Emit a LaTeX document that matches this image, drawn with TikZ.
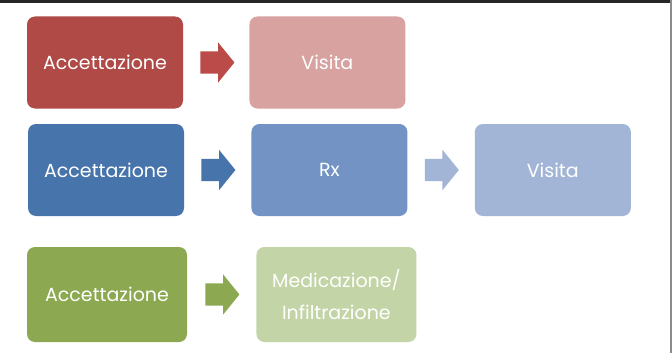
\documentclass[tikz,border=0pt]{standalone}
\usepackage{fontspec}
\setmainfont{Poppins}
\usetikzlibrary{positioning,shapes.arrows}
\definecolor{redDark}{HTML}{AF4A46}
\definecolor{redLight}{HTML}{D8A2A0}
\definecolor{redArrow}{HTML}{BB4B48}
\definecolor{blueDark}{HTML}{4774AB}
\definecolor{blueMid}{HTML}{7293C3}
\definecolor{blueLight}{HTML}{A3B5D6}
\definecolor{greenDark}{HTML}{8CA951}
\definecolor{greenLight}{HTML}{C3D4A6}
\tikzset{step box/.style={rounded corners=8pt, minimum width=156pt, minimum height=92pt,
    text=white, align=center, inner sep=2pt, font=\fontsize{19}{32}\selectfont},
  big box/.style={step box, minimum width=160pt, minimum height=95pt},
  fwd/.style={single arrow, minimum height=34pt, inner xsep=0pt, inner ysep=11pt,
    single arrow head extend=9pt, single arrow tip angle=102}}

\begin{document}
\begin{tikzpicture}[x=1pt,y=-1pt]
      \useasboundingbox (0,0) rectangle (672,353);
      \fill[white] (0,0) rectangle (672,353);
      \draw[black!85, line width=3pt] (0,1.5) -- (672,1.5);
      \draw[black!45, line width=2pt] (670.5,0) -- (670.5,353);

      % first row
      \node [step box, fill=redDark] (acc1) at (105,62.5) {Accettazione};
      \node [fwd, fill=redArrow, right=17pt of acc1] (arr1) {};
      \node [step box, fill=redLight, right=66pt of acc1] (vis1) {Visita};

      % second row
      \node [step box, fill=blueDark] (acc2) at (106,170) {Accettazione};
      \node [fwd, fill=blueDark, right=17pt of acc2] (arr2) {};
      \node [step box, fill=blueMid, right=67pt of acc2] (rx2) {Rx};
      \node [fwd, fill=blueLight, right=17pt of rx2] (arr3) {};
      \node [step box, fill=blueLight, right=67pt of rx2] (vis2) {Visita};

      % third row
      \node [big box, fill=greenDark] (acc3) at (107,294.5) {Accettazione};
      \node [fwd, fill=greenDark, right=18pt of acc3] (arr4) {};
      \node [big box, fill=greenLight, right=69pt of acc3] (med3) {Medicazione/\\Infiltrazione};
    \end{tikzpicture}
\end{document}
